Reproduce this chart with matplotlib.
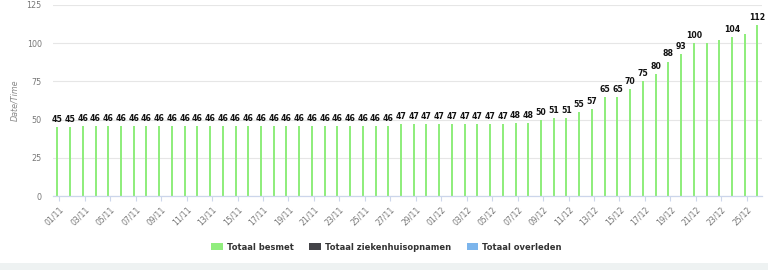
import matplotlib
matplotlib.use("Agg")
import matplotlib.pyplot as plt
from matplotlib.patches import Patch, Rectangle
import numpy as np

# ---- data ----
dates = [f"{d:02d}/11" for d in range(1, 31)] + [f"{d:02d}/12" for d in range(1, 27)]
besmet = ([45, 45] + [46] * 25 + [47] * 9 +
          [48, 48, 50, 51, 51, 55, 57, 65, 65, 70, 75, 80, 88, 93, 100, 100, 102, 104, 106, 112])
# data labels hidden by the chart (overlapping)
hidden_labels = ["22/12", "23/12", "25/12"]
series_names = ["Totaal besmet", "Totaal ziekenhuisopnamen", "Totaal overleden"]
series_colors = ["#90ed7d", "#434348", "#7cb5ec"]
y_ticks = [0, 25, 50, 75, 100, 125]
y_label = "Date/Time"

W, H = 768, 270
fig = plt.figure(figsize=(W / 100, H / 100), dpi=100)
L, R, T, B = 53, 762, 5, 196
ax = fig.add_axes([L / W, 1 - B / H, (R - L) / W, (B - T) / H])

x = np.arange(len(dates))
ax.bar(x, besmet, width=0.157, color=series_colors[0], zorder=3)
for xi, v, d in zip(x, besmet, dates):
    if d in hidden_labels:
        continue
    ax.annotate(str(v), (xi, v), xytext=(0, 2.2), textcoords="offset points",
                ha="center", va="bottom", fontsize=5.6, fontweight="bold",
                color="#111111", zorder=4)

ax.set_xlim(-0.34, 55.36)
ax.set_ylim(0, 125)
ax.set_yticks(y_ticks)
ax.set_yticklabels([str(t) for t in y_ticks])
ax.yaxis.grid(True, color="#e6e6e6", linewidth=0.8, zorder=0)
ax.tick_params(axis="y", length=0, pad=8, labelsize=5.8, labelcolor="#777777")

tick_idx = x[::2]
ax.set_xticks(tick_idx + 0.16)
ax.set_xticklabels([dates[i] for i in tick_idx], rotation=45, ha="right",
                   rotation_mode="anchor", fontsize=5.6, color="#777777")
ax.tick_params(axis="x", length=3.8, width=0.8, color="#ccd6eb", pad=2.5)

for s in ["top", "right", "left"]:
    ax.spines[s].set_visible(False)
ax.spines["bottom"].set_color("#ccd6eb")
ax.spines["bottom"].set_linewidth(0.9)
ax.spines["bottom"].set_zorder(5)

fig.text(15 / W, 1 - 100 / H, y_label, rotation=90, ha="center", va="center",
         fontsize=5.8, style="italic", color="#888888")

handles = [Patch(facecolor=c, edgecolor="none") for c in series_colors]
fig.legend(handles, series_names, loc="center", bbox_to_anchor=(386.5 / W, 1 - 247 / H),
           ncol=3, frameon=False, prop={"size": 6, "weight": "bold"},
           labelcolor="#333333", handlelength=1.35, handleheight=1.0,
           handletextpad=0.5, columnspacing=1.9, borderaxespad=0, borderpad=0)

fig.patches.append(Rectangle((0, 0), 1, 7 / H, transform=fig.transFigure,
                             facecolor="#eef2f2", edgecolor="none", zorder=0))

fig.savefig("out.png", dpi=100)
